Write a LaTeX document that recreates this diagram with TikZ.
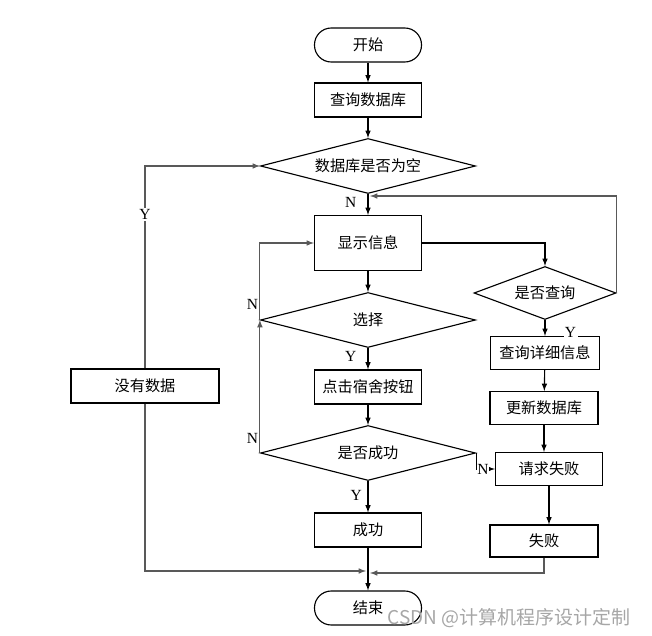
\documentclass[tikz,border=0pt]{standalone}
\usepackage{fontspec}
\setmainfont{Liberation Serif}
\newfontfamily\cjk{Noto Sans CJK SC}
\usetikzlibrary{arrows,shapes.geometric}

\begin{document}
\begin{tikzpicture}[x=0.025cm, y=-0.025cm, thick, >=latex,
    box/.style = {draw, minimum width=2.675cm, minimum height=0.85cm, inner sep=1pt, font=\cjk\fontsize{10.8}{12}\selectfont},
    term/.style = {box, rounded corners=0.42cm},
    dec/.style = {draw, diamond, aspect=4, inner sep=0pt, minimum width=5.375cm, minimum height=1.375cm, font=\cjk\fontsize{10.8}{12}\selectfont},
    yn/.style = {font=\fontsize{11}{12}\selectfont, inner sep=1pt},
    back/.style = {->, draw=black!65}]
      \useasboundingbox (0,0) rectangle (652,636);

      \node[term] (start) at (368,45) {开始};
      \node[box] (query) at (368,100) {查询数据库};
      \node[dec] (empty) at (368,166) {数据库是否为空};
      \node[box, minimum height=1.375cm] (show) at (368,243) {显示信息};
      \node[dec] (choose) at (368,320) {选择};
      \node[box] (click) at (368,387) {点击宿舍按钮};
      \node[dec] (ok) at (368,453) {是否成功};
      \node[box] (done) at (368,530) {成功};
      \node[term] (end) at (368,608) {结束};
      \node[box, minimum width=3.7cm] (nodata) at (145,386) {没有数据};
      \node[dec, minimum width=3.55cm, minimum height=1.325cm] (ask) at (545,293) {是否查询};
      \node[box, minimum width=2.725cm, minimum height=0.825cm] (detail) at (545,353) {查询详细信息};
      \node[box, minimum width=2.7cm, minimum height=0.825cm] (update) at (544,408) {更新数据库};
      \node[box, minimum height=0.825cm] (reqfail) at (549,469) {请求失败};
      \node[box, minimum width=2.7cm, minimum height=0.8cm] (fail) at (544,541) {失败};
      \node[font=\cjk\fontsize{13.5}{15}\selectfont, text=black!35, anchor=east] (mark) at (636,618) {CSDN @计算机程序设计定制};

      \coordinate (m1) at (370,196);
      \coordinate (m2) at (366,571);
      \coordinate (m3) at (370,573);

      \draw[->] (start) -- (query);
      \draw[->] (query) -- (empty);
      \draw[->] (empty) -- node[yn, left=7pt, pos=0.4] {N} (show);
      \draw[->] (show) -- (choose);
      \draw[->] (choose) -- node[yn, left=7pt, pos=0.4] {Y} (click);
      \draw[->] (click) -- (ok);
      \draw[->] (ok) -- node[yn, left=3pt, pos=0.45] {Y} (done);
      \draw[->] (done) -- (end);
      \draw[back] (nodata) |- node[yn, fill=white, pos=0.38] {Y} (empty.west);
      \draw[back] (nodata) |- (m2);
      \draw[back] (choose.west) |- node[yn, left, pos=0.1] {N} (show.west);
      \draw[back] (ok.west) -- node[yn, left, pos=0.11] {N} (choose.west);
      \draw[->] (show.east) -| (ask.north);
      \draw[->] (ask) -- node[yn, fill=white, pos=0.8, right=0.45cm] {Y} (detail);
      \draw[back] (ask.east) |- (m1);
      \draw[->] (detail) -- (update);
      \draw[->] (update) -- (update |- reqfail.north);
      \draw[->] (reqfail) -- (reqfail |- fail.north);
      \draw[back] (fail) |- (m3);
      \draw[->] (ok.east) |- node[yn, pos=0.5, anchor=west, fill=white, inner sep=0.5pt] {N} (reqfail.west);
    \end{tikzpicture}
\end{document}
